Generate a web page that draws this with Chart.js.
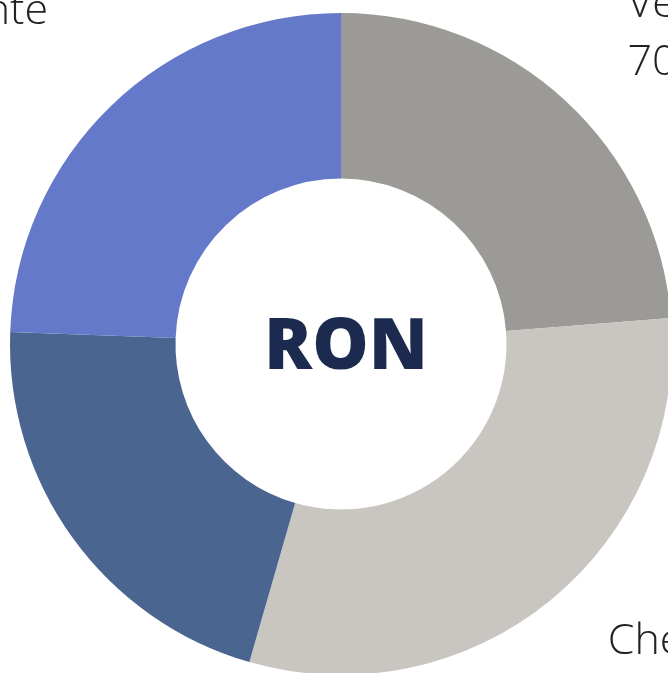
<!DOCTYPE html>
<html>
<head>
<meta charset="utf-8">
<script src="https://cdn.jsdelivr.net/npm/chart.js@4/dist/chart.umd.min.js"></script>
<style>
  html, body { margin: 0; padding: 0; width: 668px; height: 673px; overflow: hidden; background: #ffffff; }
  #wrap { position: absolute; left: -159px; top: -156px; width: 1000px; height: 1000px; }
</style>
</head>
<body>
<div id="wrap"><canvas id="c"></canvas></div>
<script>
const categories = ["Venituri", "Cheltuieli", "Alte costuri", "Investiții curente"];
const values = [70200, 90800, 62400, 72200];
const colors = ["#9b9a96", "#c9c5c0", "#4a6690", "#6479c9"];
const centerText = "RON";

function fmt(v) { return v.toLocaleString("ro-RO"); }

const labelPlugin = {
  id: "outerLabels",
  afterDraw(chart) {
    const ctx = chart.ctx;
    const meta = chart.getDatasetMeta(0);
    ctx.save();
    ctx.font = '300 43px "Open Sans"';
    ctx.fillStyle = "#222222";
    ctx.textBaseline = "middle";
    const lh = 58;
    meta.data.forEach((arc, i) => {
      const p = arc.getProps(["x", "y", "startAngle", "endAngle", "outerRadius"], true);
      const mid = (p.startAngle + p.endAngle) / 2;
      const r = p.outerRadius + 91;
      const ax = p.x + Math.cos(mid) * r;
      const ay = p.y + Math.sin(mid) * r;
      const lines = [categories[i], fmt(values[i])];
      const y0 = ay - lh / 2;
      if (Math.cos(mid) >= 0) {
        ctx.textAlign = "left";
        lines.forEach((t, k) => ctx.fillText(t, ax, y0 + k * lh));
      } else {
        const w = ctx.measureText(lines[0]).width;
        ctx.textAlign = "center";
        lines.forEach((t, k) => ctx.fillText(t, ax - w / 2, y0 + k * lh));
      }
    });
    // center text
    ctx.font = '800 71px "Open Sans"';
    ctx.fillStyle = "#1b2a4e";
    ctx.textAlign = "center";
    ctx.textBaseline = "middle";
    const a0 = meta.data[0];
    ctx.fillText(centerText, a0.x + 5, a0.y + 5);
    ctx.restore();
  }
};

new Chart(document.getElementById("c"), {
  type: "doughnut",
  data: {
    labels: categories,
    datasets: [{ data: values, backgroundColor: colors, borderWidth: 0 }]
  },
  options: {
    responsive: true,
    maintainAspectRatio: false,
    animation: false,
    cutout: "50%",
    layout: { padding: 169 },
    plugins: { legend: { display: false }, tooltip: { enabled: false } }
  },
  plugins: [labelPlugin]
});
</script>
</body>
</html>
